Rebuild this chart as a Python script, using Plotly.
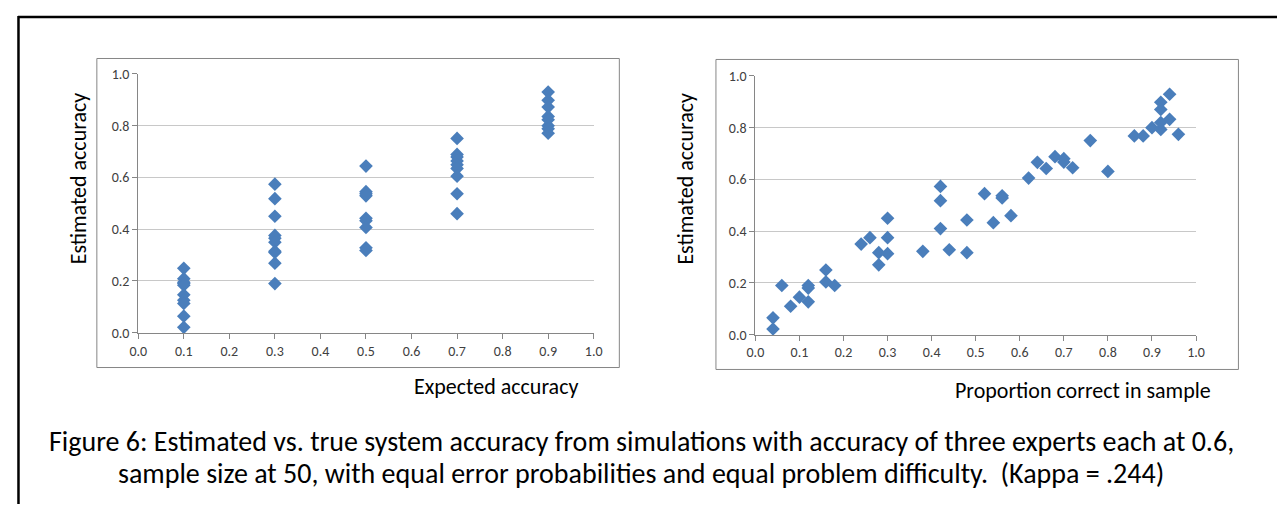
import plotly.graph_objects as go

# page is 1285x514; browser body has an 8px margin, so the figure is sized to fit inside it
OX, OY = 8, 8
FW, FH = 1285 - 2 * OX, 514 - 2 * OY - 2

# ---- Data ----
left_x = ([0.1] * 10 + [0.3] * 10 + [0.5] * 9 + [0.7] * 9 + [0.9] * 8)
left_y = ([0.249, 0.209, 0.195, 0.19, 0.184, 0.147, 0.126, 0.113, 0.064, 0.021]
          + [0.574, 0.518, 0.45, 0.376, 0.365, 0.35, 0.315, 0.31, 0.269, 0.19]
          + [0.644, 0.545, 0.537, 0.529, 0.442, 0.433, 0.407, 0.328, 0.318]
          + [0.751, 0.689, 0.679, 0.664, 0.649, 0.635, 0.605, 0.537, 0.46]
          + [0.93, 0.898, 0.872, 0.836, 0.823, 0.8, 0.788, 0.771])

right_x = [0.04, 0.04, 0.06, 0.08, 0.10, 0.12, 0.12, 0.12, 0.16, 0.16, 0.18,
           0.24, 0.26, 0.28, 0.28, 0.30, 0.30, 0.30, 0.38, 0.42, 0.42, 0.42,
           0.44, 0.48, 0.48, 0.52, 0.54, 0.56, 0.56, 0.58, 0.62, 0.64, 0.66,
           0.68, 0.70, 0.70, 0.72, 0.76, 0.80, 0.86, 0.88, 0.90, 0.92, 0.92,
           0.92, 0.92, 0.94, 0.94, 0.96]
right_y = [0.065, 0.022, 0.19, 0.11, 0.145, 0.19, 0.18, 0.127, 0.25, 0.204, 0.19,
           0.35, 0.375, 0.317, 0.27, 0.45, 0.375, 0.313, 0.322, 0.573, 0.518, 0.41,
           0.328, 0.443, 0.317, 0.545, 0.433, 0.537, 0.528, 0.46, 0.605, 0.666, 0.642,
           0.688, 0.68, 0.667, 0.645, 0.75, 0.631, 0.768, 0.768, 0.80, 0.793, 0.82,
           0.87, 0.898, 0.929, 0.832, 0.774]

x_ticks = [i / 10 for i in range(11)]
y_ticks = [i / 5 for i in range(6)]

caption_lines = [
    "Figure 6: Estimated vs. true system accuracy from simulations with accuracy of three experts each at 0.6,",
    "sample size at 50, with equal error probabilities and equal problem difficulty.  (Kappa = .244)",
]

# ---- Styling ----
FONT = "Carlito, Calibri, 'Liberation Sans Narrow', 'Liberation Sans', sans-serif"
MARK = "#4A7EBB"
AXIS = "#868686"
GRID = "#C8C8C8"


def px(x):
    return (x - OX) / FW


def py(y):
    return 1 - (y - OY) / FH


fig = go.Figure()
fig.add_trace(go.Scatter(x=left_x, y=left_y, mode="markers", xaxis="x", yaxis="y",
                         marker=dict(symbol="diamond", size=10.5, color=MARK),
                         showlegend=False, cliponaxis=False))
fig.add_trace(go.Scatter(x=right_x, y=right_y, mode="markers", xaxis="x2", yaxis="y2",
                         marker=dict(symbol="diamond", size=10.5, color=MARK),
                         showlegend=False, cliponaxis=False))

common_x = dict(range=[0, 1], tickvals=x_ticks, ticktext=[f"{v:.1f}" for v in x_ticks],
                showgrid=False, zeroline=False, showline=True, linecolor=AXIS, linewidth=1,
                ticks="outside", ticklen=5, tickcolor=AXIS,
                tickfont=dict(family=FONT, size=14, color="#404040"), fixedrange=True)
common_y = dict(range=[0, 1], tickvals=y_ticks, ticktext=[f"{v:.1f}" for v in y_ticks],
                showgrid=True, gridcolor=GRID, gridwidth=1, zeroline=False,
                showline=True, linecolor=AXIS, linewidth=1,
                ticks="outside", ticklen=5, tickcolor=AXIS,
                tickfont=dict(family=FONT, size=14, color="#404040"), fixedrange=True)

fig.update_layout(
    width=FW, height=FH, autosize=False,
    margin=dict(l=0, r=0, t=0, b=0),
    paper_bgcolor="white", plot_bgcolor="white",
    xaxis=dict(domain=[px(131), px(593)], anchor="y", **common_x),
    yaxis=dict(domain=[py(336), py(68)], anchor="x", **common_y),
    xaxis2=dict(domain=[px(757), px(1204)], anchor="y2", **common_x),
    yaxis2=dict(domain=[py(338), py(70)], anchor="x2", **common_y),
)

shapes = [
    # chart frames
    dict(type="rect", xref="paper", yref="paper", x0=px(89), x1=px(619), y0=py(372), y1=py(52),
         line=dict(color=AXIS, width=1)),
    dict(type="rect", xref="paper", yref="paper", x0=px(717), x1=px(1247), y0=py(374), y1=py(53),
         line=dict(color=AXIS, width=1)),
    # outer black border (top and left)
    dict(type="line", xref="paper", yref="paper", x0=px(9), x1=px(1300), y0=py(9), y1=py(9),
         line=dict(color="black", width=2.5)),
    dict(type="line", xref="paper", yref="paper", x0=px(9.5), x1=px(9.5), y0=py(8), y1=py(530),
         line=dict(color="black", width=2.5)),
]
fig.update_layout(shapes=shapes)

ann = [
    dict(text="Estimated accuracy", x=px(70), y=py(176), textangle=-90, size=22),
    dict(text="Estimated accuracy", x=px(686), y=py(176), textangle=-90, size=22),
    dict(text="Expected accuracy", x=px(494), y=py(392), textangle=0, size=22),
    dict(text="Proportion correct in sample", x=px(1089), y=py(396), textangle=0, size=22),
    dict(text=caption_lines[0], x=px(641), y=py(449), textangle=0, size=28),
    dict(text=caption_lines[1], x=px(641), y=py(482), textangle=0, size=28),
]
for a in ann:
    fig.add_annotation(text=a["text"], x=a["x"], y=a["y"], xref="paper", yref="paper",
                       xanchor="center", yanchor="middle", showarrow=False,
                       textangle=a["textangle"],
                       font=dict(family=FONT, size=a["size"], color="black"))

fig.write_html("out.html", config={"responsive": False, "displayModeBar": False})
